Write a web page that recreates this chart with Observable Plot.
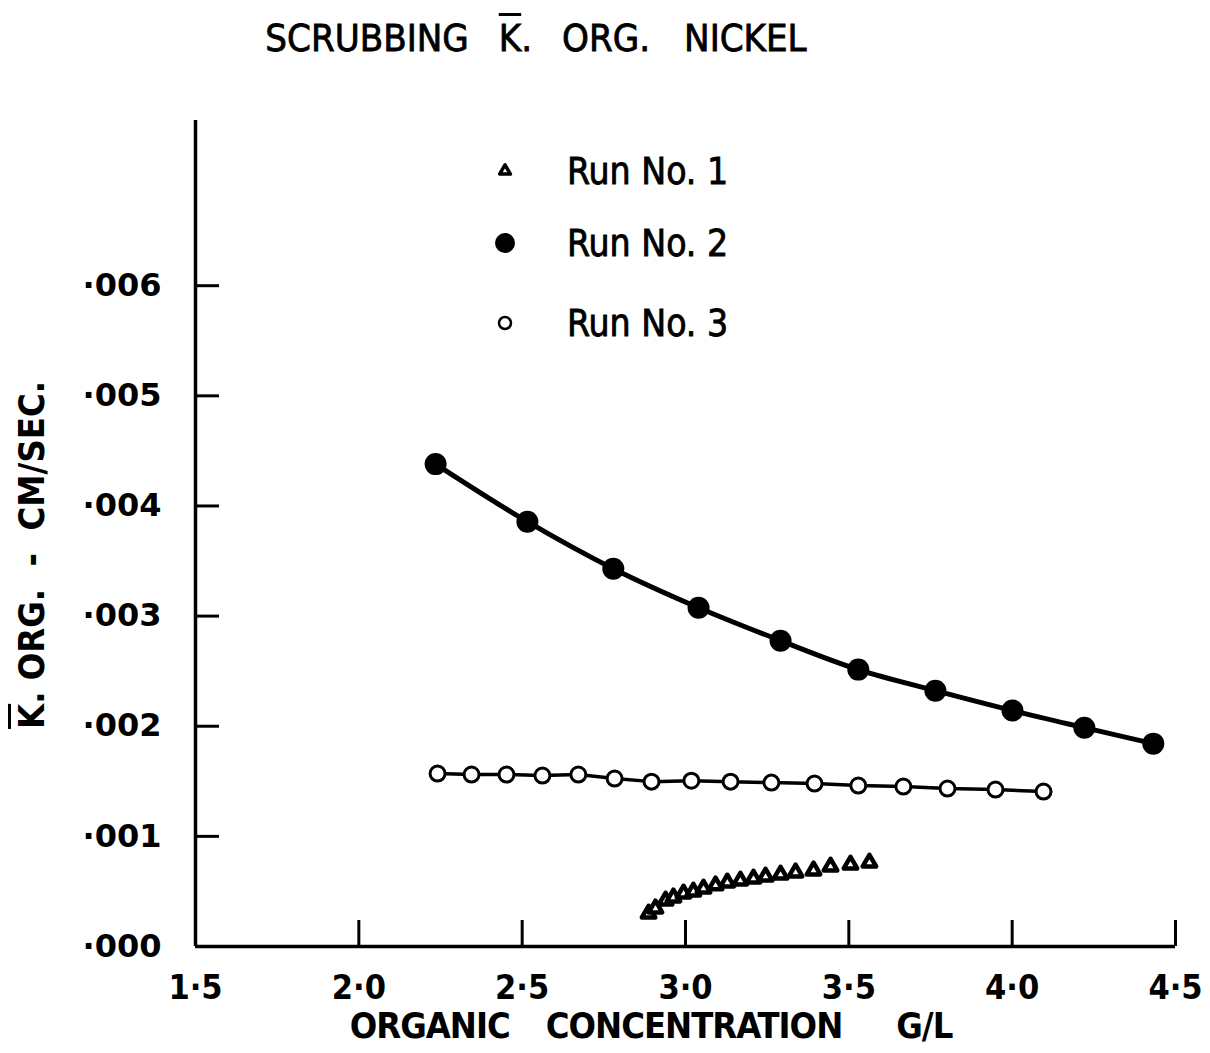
<!DOCTYPE html>
<html>
<head>
<meta charset="utf-8">
<script src="https://cdn.jsdelivr.net/npm/d3@7"></script>
<script src="https://cdn.jsdelivr.net/npm/@observablehq/plot@0.6"></script>
<style>
  html, body { margin: 0; padding: 0; background: #fff; }
  #wrap { position: relative; width: 1210px; height: 1053px; overflow: hidden; background: #fff; }
  #wrap svg.plot { position: absolute; left: 0; top: 0; }
  .lbl { position: absolute; white-space: nowrap; font-family: "DejaVu Sans Condensed", "Liberation Sans Narrow", sans-serif; color: #000; line-height: 1; }
  .ov { text-decoration: overline; text-decoration-thickness: 3px; }
  .med { -webkit-text-stroke: 0.8px #000; }
</style>
</head>
<body>
<div id="wrap"></div>
<script>
// ---- data ----
const run1X = [2.887, 2.908, 2.939, 2.963, 2.994, 3.024, 3.055, 3.092, 3.128, 3.168, 3.208, 3.245, 3.291, 3.337, 3.392, 3.444, 3.505, 3.563];
const run1Y = [0.000299, 0.000345, 0.000417, 0.000445, 0.000481, 0.000499, 0.000526, 0.000554, 0.000581, 0.000599, 0.000617, 0.000635, 0.000653, 0.000672, 0.000690, 0.000726, 0.000744, 0.000762];

const run2X = [2.235, 2.516, 2.779, 3.040, 3.291, 3.529, 3.765, 4.001, 4.221, 4.432];
const run2Y = [0.00438, 0.003857, 0.00343, 0.003076, 0.002777, 0.002514, 0.002323, 0.002142, 0.001987, 0.001842];

const run3X = [2.241, 2.345, 2.452, 2.562, 2.672, 2.783, 2.896, 3.018, 3.138, 3.263, 3.395, 3.529, 3.667, 3.802, 3.949, 4.096];
const run3Y = [0.001570, 0.001561, 0.001561, 0.001552, 0.001561, 0.001525, 0.001497, 0.001506, 0.001497, 0.001488, 0.001479, 0.001461, 0.001452, 0.001434, 0.001425, 0.001407];

const xTicks = [1.5, 2.0, 2.5, 3.0, 3.5, 4.0, 4.5];
const xTickLabels = ["1·5", "2·0", "2·5", "3·0", "3·5", "4·0", "4·5"];
const yTicks = [0, 0.001, 0.002, 0.003, 0.004, 0.005, 0.006];
const yTickLabels = ["·000", "·001", "·002", "·003", "·004", "·005", "·006"];

const seriesNames = ["Run No. 1", "Run No. 2", "Run No. 3"];
const titleWords = ["SCRUBBING", "K", ".", "ORG.", "NICKEL"];
const xLabelWords = ["ORGANIC", "CONCENTRATION", "G/L"];
const yLabel = ["K", ". ORG.  -  CM/SEC."];

// ---- build tables ----
const run1 = run1X.map((x, i) => ({x, y: run1Y[i]}));
const run2 = run2X.map((x, i) => ({x, y: run2Y[i]}));
const run3 = run3X.map((x, i) => ({x, y: run3Y[i]}));

const W = 1210, H = 1053;
const mL = 195, mR = 35, mT = 120, mB = 107;
const plotW = W - mL - mR, plotH = H - mT - mB;

const chart = Plot.plot({
  width: W, height: H,
  marginLeft: mL, marginRight: mR, marginTop: mT, marginBottom: mB,
  x: {domain: [1.5, 4.5]},
  y: {domain: [0, 0.0075]},
  style: {background: "transparent", color: "#000"},
  marks: [
    Plot.ruleX([1.5], {strokeWidth: 3.5}),
    Plot.ruleY([0], {strokeWidth: 3.5}),
    Plot.tickX(xTicks.slice(1), {x: d => d, insetTop: plotH - 26, strokeWidth: 3}),
    Plot.tickY(yTicks.slice(1), {y: d => d, insetRight: plotW - 24, strokeWidth: 3}),
    Plot.axisX({ticks: xTicks, tickFormat: d => xTickLabels[xTicks.indexOf(d)], tickSize: 0, tickPadding: 28,
      fontSize: 34, fontFamily: "DejaVu Sans Condensed, sans-serif", fontWeight: "bold", label: null}),
    Plot.axisY({ticks: yTicks, tickFormat: d => yTickLabels[yTicks.indexOf(d)], tickSize: 0, tickPadding: 34,
      fontSize: 32, fontFamily: "DejaVu Sans, sans-serif", fontWeight: "bold", label: null}),
    Plot.line(run3, {x: "x", y: "y", strokeWidth: 3.5}),
    Plot.dot(run3, {x: "x", y: "y", r: 7.5, fill: "white", stroke: "black", strokeWidth: 3}),
    Plot.line(run2, {x: "x", y: "y", curve: "catmull-rom", strokeWidth: 5}),
    Plot.dot(run2, {x: "x", y: "y", r: 11, fill: "black"}),
    Plot.dot(run1, {x: "x", y: "y", symbol: "triangle", r: 5, fill: "white", stroke: "black", strokeWidth: 4.5, strokeLinejoin: "round"})
  ]
});

const wrap = document.getElementById("wrap");
wrap.appendChild(chart);

function addDiv(html, style, cls = "") {
  const d = document.createElement("div");
  d.className = "lbl " + cls;
  d.innerHTML = html;
  Object.assign(d.style, style);
  wrap.appendChild(d);
  return d;
}

// title
addDiv(`${titleWords[0]}<span style="margin-left:30px" class="ov">${titleWords[1]}</span>${titleWords[2]}<span style="margin-left:30px">${titleWords[3]}</span><span style="margin-left:34px">${titleWords[4]}</span>`,
  {left: "536px", top: "38px", fontSize: "38px", transform: "translate(-50%, -50%)"}, "med");

// x label
addDiv(`${xLabelWords[0]}<span style="margin-left:36px">${xLabelWords[1]}</span><span style="margin-left:54px">${xLabelWords[2]}</span>`,
  {left: "651px", top: "1026px", fontSize: "36px", fontWeight: "bold", letterSpacing: "-1px", transform: "translate(-50%, -50%)"});

// y label
addDiv(`<span class="ov">${yLabel[0]}</span>${yLabel[1].replace(/ /g, "&nbsp;")}`,
  {left: "32px", top: "555px", fontSize: "36px", fontWeight: "bold", transform: "translate(-50%, -50%) rotate(-90deg)"});

// legend
const legendY = [171, 243, 323];
const symbols = [
  `<svg width="20" height="20" viewBox="-10 -10 20 20"><path d="${d3.symbol(d3.symbolTriangle, Math.PI * 4 * 4)()}" fill="white" stroke="black" stroke-width="3.5" stroke-linejoin="round"/></svg>`,
  `<svg width="24" height="24" viewBox="-12 -12 24 24"><circle r="10" fill="black"/></svg>`,
  `<svg width="20" height="20" viewBox="-10 -10 20 20"><circle r="6" fill="white" stroke="black" stroke-width="2.5"/></svg>`
];
seriesNames.forEach((name, i) => {
  const s = addDiv(symbols[i], {left: "505px", top: legendY[i] + "px", transform: "translate(-50%, -50%)"});
  s.style.lineHeight = "0";
  addDiv(name, {left: "567px", top: legendY[i] + "px", fontSize: "37px", transform: "translateY(-50%)"}, "med");
});
</script>
</body>
</html>
